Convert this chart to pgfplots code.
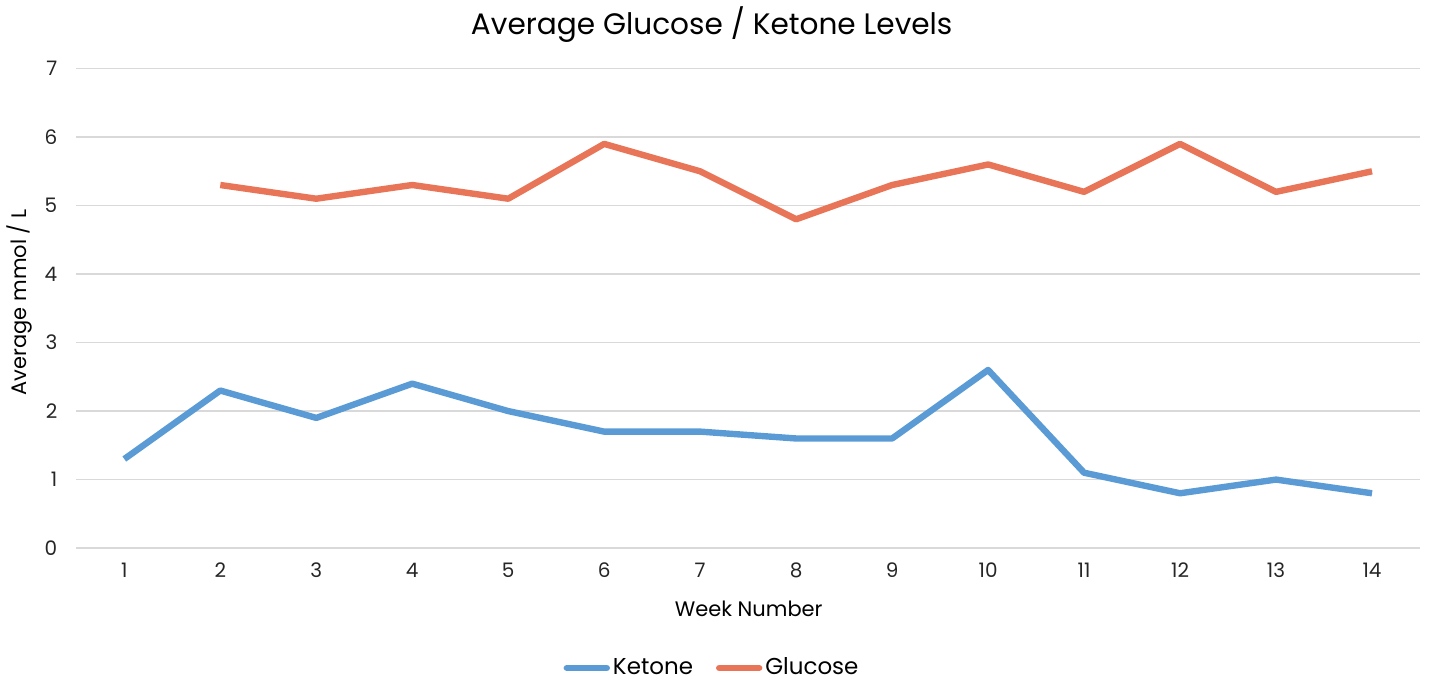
\documentclass[border=0pt]{standalone}
\usepackage{pgfplots}
\pgfplotsset{compat=1.18}
\usepackage{fontspec}
\setmainfont{Poppins}
\definecolor{ketone}{HTML}{5B9BD5}
\definecolor{glucose}{HTML}{E97558}
\definecolor{gridc}{HTML}{D9D9D9}
\begin{document}
\begin{tikzpicture}
\begin{axis}[
  at={(0,0)}, anchor=south west,
  scale only axis, width=672.5pt, height=240pt,
  xmin=0.5, xmax=14.5, ymin=0, ymax=7,
  xtick={1,...,14}, ytick={0,1,...,7},
  ymajorgrids, grid style={gridc, line width=0.8pt},
  axis line style={draw=none},
  axis x line*=bottom,
  major tick length=0pt,
  tick label style={font=\fontsize{10}{12}\selectfont, color=black!85},
  /pgf/number format/assume math mode=true,
  xticklabel style={yshift=-4pt},
  yticklabel style={xshift=-6pt},
  legend columns=2,
  legend style={draw=none, at={(0.4735,-0.25)}, anchor=center, font=\fontsize{11.5}{13}\selectfont, column sep=0pt,
    nodes={inner xsep=1.5pt}, /tikz/every even column/.append style={column sep=10pt}},
  legend image code/.code={\draw[#1, line cap=round] (0pt,0pt) -- (20pt,0pt);},
  clip=false,
]
\addplot[ketone, line width=3.2pt, line join=round] coordinates {
(1,1.3) (2,2.3) (3,1.9) (4,2.4) (5,2.0) (6,1.7) (7,1.7) (8,1.6) (9,1.6) (10,2.6) (11,1.1) (12,0.8) (13,1.0) (14,0.8)};
\addlegendentry{Ketone}
\addplot[glucose, line width=3.2pt, line join=round] coordinates {
(2,5.3) (3,5.1) (4,5.3) (5,5.1) (6,5.9) (7,5.5) (8,4.8) (9,5.3) (10,5.6) (11,5.2) (12,5.9) (13,5.2) (14,5.5)};
\addlegendentry{Glucose}
\draw[gridc, line width=0.8pt] (axis cs:0.5,0) -- (axis cs:14.5,0);
\end{axis}
\node[font=\fontsize{14.8}{17}\selectfont] at (318pt,262pt) {Average Glucose / Ketone Levels};
\node[font=\fontsize{10.5}{12}\selectfont] at (336.5pt,-30.5pt) {Week Number};
\node[font=\fontsize{10.5}{12}\selectfont, rotate=90] at (-28.5pt,123pt) {Average mmol / L};
\useasboundingbox (-37.5pt,-70pt) rectangle (677pt,273pt);
\end{tikzpicture}
\end{document}
